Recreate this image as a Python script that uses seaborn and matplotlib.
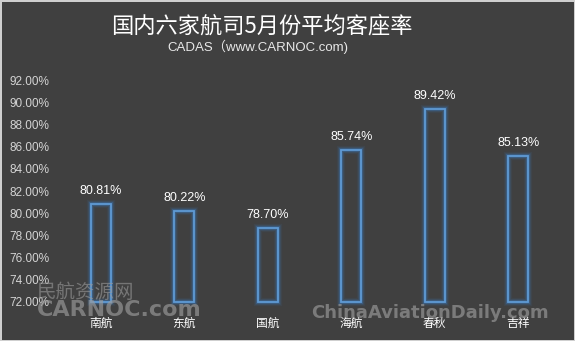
import matplotlib
matplotlib.use("Agg")
import matplotlib.pyplot as plt
import seaborn as sns
import pandas as pd
from matplotlib.ticker import FuncFormatter

# Average May load factor of six Chinese airlines (%)
airlines = ["南航", "东航", "国航", "海航", "春秋", "吉祥"]
load_factor = [80.81, 80.22, 78.70, 85.74, 89.42, 85.13]
y_ticks = [72, 74, 76, 78, 80, 82, 84, 86, 88, 90, 92]

title_text = "国内六家航司5月份平均客座率"
subtitle_text = "CADAS（www.CARNOC.com)"

bg = "#404040"
edge = "#5f9ad5"
baseline = y_ticks[0]

sns.set_theme(style="dark")
plt.rcParams["font.family"] = ["Liberation Sans", "Noto Sans CJK SC", "DejaVu Sans"]
cjk = ["Noto Sans CJK SC", "DejaVu Sans"]

df = pd.DataFrame({"airline": airlines, "rate": load_factor})

fig = plt.figure(figsize=(5.75, 3.41), dpi=100, facecolor=bg)
fig.patch.set_edgecolor("#cfcfcf")
fig.patch.set_linewidth(2)
ax = fig.add_axes([0.1026, 0.1144, 0.8714, 0.6506])
ax.set_facecolor(bg)

# soft glow layers around the hollow bars, then the crisp outline
for lw, alpha in [(6, 0.09), (4, 0.2), (2.8, 0.32)]:
    sns.barplot(data=df, x="airline", y="rate", ax=ax, width=0.24,
                facecolor="none", edgecolor="#3a7bc0", linewidth=lw,
                alpha=alpha, errorbar=None)
sns.barplot(data=df, x="airline", y="rate", ax=ax, width=0.24,
            facecolor="none", edgecolor=edge, linewidth=1.3, errorbar=None)

# bars rise from the axis floor so their lower outline stays visible
n = len(load_factor)
for k, p in enumerate(ax.patches):
    v = load_factor[k % n]
    p.set_y(baseline)
    p.set_height(v - baseline)
    p.set_clip_on(False)
    p.set_zorder(1)

ax.set_ylim(y_ticks[0], y_ticks[-1])
ax.set_yticks(y_ticks)
ax.yaxis.set_major_formatter(FuncFormatter(lambda v, p: f"{v:.2f}%"))
ax.set_xlim(-0.5, n - 0.5)
ax.set_xlabel("")
ax.set_ylabel("")
ax.grid(False)
for s in ax.spines.values():
    s.set_visible(False)

ax.tick_params(axis="y", colors="#d4d4d4", labelsize=8.5, length=0, pad=7)
ax.tick_params(axis="x", colors="white", labelsize=8.5, length=0, pad=11)
for lab in ax.get_xticklabels():
    lab.set_family(cjk)

for i, v in enumerate(load_factor):
    ax.annotate(f"{v:.2f}%", (i, v), xytext=(0, 5), textcoords="offset points",
                ha="center", va="bottom", color="white", fontsize=9)

fig.text(0.455, 0.925, title_text, ha="center", va="center", color="white",
         fontsize=16, family=cjk)
fig.text(0.448, 0.862, subtitle_text, ha="center", va="center", color="#e8e8e8",
         fontsize=9.5, family=["Liberation Sans", "Noto Sans CJK SC"])

# site watermarks: above the bars, beneath the axis labels
wm = dict(transform=fig.transFigure, ha="center", va="center", zorder=2,
          clip_on=False)
ax.text(0.148, 0.143, "民航资源网", color="#9a9a9a", alpha=0.6, fontsize=14,
        family=cjk, fontweight="light", **wm)
ax.text(0.208, 0.09, "CARNOC.com", color="#9c9c9c", alpha=0.65, fontsize=16,
        family="DejaVu Sans", fontweight="bold", **wm)
ax.text(0.748, 0.083, "ChinaAviationDaily.com", color="#9c9c9c", alpha=0.65,
        fontsize=13, family="Liberation Sans Narrow", fontweight="bold", **wm)

fig.savefig("out.png", dpi=100, facecolor=bg, edgecolor=fig.patch.get_edgecolor())
